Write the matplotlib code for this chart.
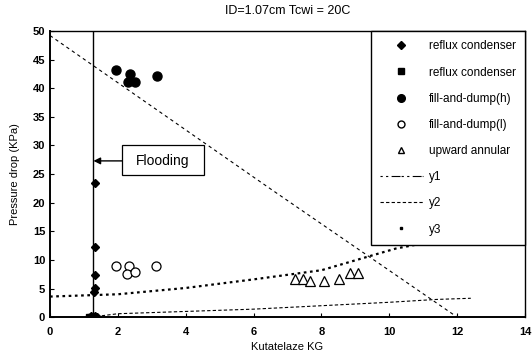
import matplotlib
matplotlib.use("Agg")
import matplotlib.pyplot as plt
from matplotlib.lines import Line2D
from matplotlib.patches import Rectangle

plt.rcParams['font.family'] = ['Liberation Sans', 'DejaVu Sans']

title = "ID=1.07cm Tcwi = 20C"
xlabel = "Kutatelaze KG"
ylabel = "Pressure drop (KPa)"

# reflux condenser (diamonds)
rc_d_x = [1.34, 1.34, 1.32, 1.34, 1.30, 1.22, 1.32, 1.38]
rc_d_y = [23.4, 12.2, 7.3, 5.1, 4.4, 0.2, 0.2, 0.1]
# reflux condenser (squares)
rc_s_x = [1.15, 1.22, 1.28]
rc_s_y = [0.0, 0.0, 0.0]
# fill-and-dump(h)
fdh_x = [1.95, 2.36, 2.29, 2.51, 3.15]
fdh_y = [43.1, 42.4, 41.1, 41.1, 42.1]
# fill-and-dump(l)
fdl_x = [1.95, 2.34, 2.27, 2.51, 3.12]
fdl_y = [8.9, 8.9, 7.5, 7.9, 8.9]
# upward annular
ua_x = [7.23, 7.46, 7.67, 8.06, 8.51, 8.84, 9.09]
ua_y = [6.6, 6.6, 6.4, 6.4, 6.6, 7.7, 7.7]
# y1: decreasing line
y1_x = [0.0, 6.5, 12.0]
y1_y = [49.2, 22.4, 0.0]
# y2: lower curve
y2_x = [1.2, 2.0, 4.0, 6.0, 8.0, 10.0, 11.4, 12.4]
y2_y = [0.0, 0.6, 1.0, 1.4, 2.0, 2.6, 3.1, 3.3]
# y3: middle curve
y3_x = [0.0, 2.0, 4.0, 6.0, 8.0, 9.5, 10.2, 11.0, 11.8]
y3_y = [3.6, 4.0, 5.1, 6.6, 8.2, 10.8, 12.0, 12.9, 12.7]

flood_x = 1.26
flood_label = "Flooding"
flood_y = 27.3

fig = plt.figure(figsize=(5.32, 3.6), dpi=100)
ax = fig.add_axes([0.094, 0.119, 0.893, 0.795])

ax.plot(y1_x, y1_y, color='black', lw=0.8, dashes=(3, 3))
ax.plot(y2_x, y2_y, color='black', lw=0.8, dashes=(3, 2))
ax.plot(y3_x, y3_y, color='black', lw=1.6, dashes=(1.2, 1.6))
ax.axvline(flood_x, color='black', lw=1.0)

ax.plot(rc_d_x, rc_d_y, 'D', color='black', ms=4.5, ls='none')
ax.plot(rc_s_x, rc_s_y, 's', color='black', ms=5, ls='none')
ax.plot(fdh_x, fdh_y, 'o', color='black', ms=6.5, ls='none')
ax.plot(fdl_x, fdl_y, 'o', mfc='white', mec='black', mew=0.9, ms=6.5, ls='none')
ax.plot(ua_x, ua_y, '^', mfc='white', mec='black', mew=0.9, ms=6.5, ls='none')

# Flooding box and arrow
box_x0, box_x1 = 2.12, 4.54
box_y0, box_y1 = 24.8, 30.0
ax.add_patch(Rectangle((box_x0, box_y0), box_x1 - box_x0, box_y1 - box_y0,
                       fc='white', ec='black', lw=0.9, zorder=4))
ax.text((box_x0 + box_x1) / 2, flood_y, flood_label, fontsize=10,
        ha='center', va='center', zorder=5)
ax.annotate("", xy=(flood_x + 0.02, flood_y), xytext=(box_x0, flood_y),
            arrowprops=dict(arrowstyle='-|>', color='black', lw=1.0,
                            shrinkA=0, shrinkB=0))

ax.set_xlim(0, 14)
ax.set_ylim(0, 50)
ax.set_xticks(range(0, 15, 2))
ax.set_yticks(range(0, 51, 5))
ax.tick_params(labelsize=8, length=3, width=0.8, direction='in')
ax.tick_params(axis='x', pad=7)
for lab in ax.get_xticklabels() + ax.get_yticklabels():
    lab.set_fontweight('bold')
for s in ax.spines.values():
    s.set_linewidth(1.0)
ax.spines['left'].set_linewidth(1.4)
ax.spines['bottom'].set_linewidth(1.4)

ax.set_title(title, fontsize=9, pad=12)
ax.set_xlabel(xlabel, fontsize=8, labelpad=4)
ax.set_ylabel(ylabel, fontsize=8, labelpad=9)

handles = [
    Line2D([], [], marker='D', color='black', ls='none', ms=4.5),
    Line2D([], [], marker='s', color='black', ls='none', ms=5),
    Line2D([], [], marker='o', color='black', ls='none', ms=5.5),
    Line2D([], [], marker='o', mfc='white', mec='black', ls='none', ms=5),
    Line2D([], [], marker='^', mfc='white', mec='black', ls='none', ms=5),
    Line2D([], [], color='black', lw=0.8, dashes=(2, 3, 2, 3, 8, 1)),
    Line2D([], [], color='black', lw=0.8, dashes=(3, 2)),
    Line2D([], [], marker='s', color='black', ls='none', ms=2),
]
labels = ["reflux condenser", "reflux condenser", "fill-and-dump(h)",
          "fill-and-dump(l)", "upward annular", "y1", "y2", "y3"]
leg = ax.legend(handles, labels, loc='upper right', bbox_to_anchor=(1.0, 1.0),
                fontsize=8.5, labelspacing=1.2, handlelength=3.6, handletextpad=0.5,
                borderaxespad=0.0, borderpad=0.8, fancybox=False, framealpha=1,
                edgecolor='black')
leg.get_frame().set_linewidth(1.0)
leg.set_zorder(6)

fig.savefig("out.png", dpi=100)
